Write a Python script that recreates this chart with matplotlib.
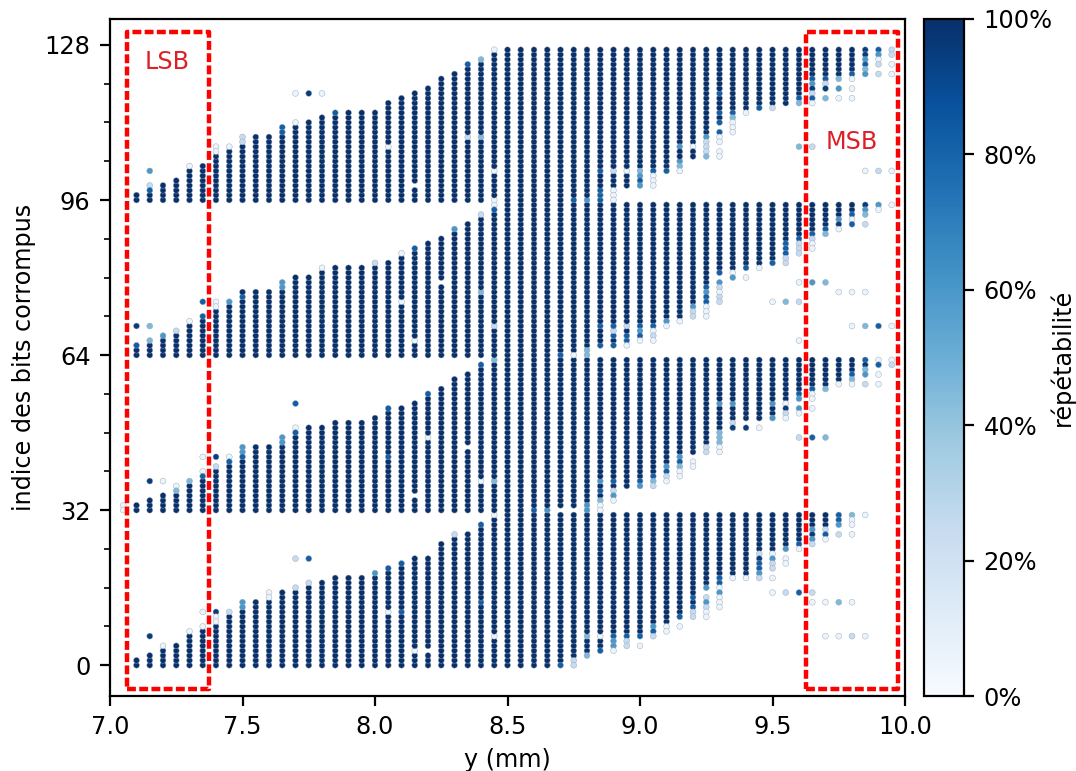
import numpy as np
from matplotlib import pyplot as plt
from matplotlib.patches import Rectangle
from matplotlib.ticker import FuncFormatter, MultipleLocator

# repetabilite levels
FULL = 100
DK = 95
MD = 82
MID = 60
ML = 45
LT = 25
WH = 6
GAP = None

col_x = [7.1, 7.15, 7.2, 7.25, 7.3, 7.35, 7.4, 7.45, 7.5, 7.55, 7.6, 7.65, 7.7, 7.75, 7.8, 7.85, 7.9, 7.95,
         8.0, 8.05, 8.1, 8.15, 8.2, 8.25, 8.3, 8.35, 8.4, 8.45, 8.5, 8.55, 8.6, 8.65, 8.7, 8.75, 8.8, 8.85, 8.9, 8.95,
         9.0, 9.05, 9.1, 9.15, 9.2, 9.25, 9.3, 9.35, 9.4, 9.45, 9.5, 9.55, 9.6, 9.65, 9.7, 9.75, 9.8, 9.85, 9.9, 9.95]

# top of the solid run in each 32 bit band, -1 = no solid run
top_b0 = [1, 2, 3, 4, 6, 7, 8, 10, 11, 13, 13, 15, 15, 16, 17, 18, 18, 18,
          18, 19, 20, 22, 22, 25, 26, 27, 28, 30, 31, 31, 31, 31, 31, 31, 31, 31, 31, 31,
          31, 31, 31, 31, 31, 31, 31, 31, 31, 31, 31, 31, 31, 31, 31, -1, -1, -1, -1, -1]
top_b32 = [1, 2, 3, 3, 5, 6, 8, 9, 10, 13, 13, 13, 15, 17, 17, 18, 18, 18,
           19, 20, 21, 22, 23, 25, 27, 28, 29, 30, 31, 31, 31, 31, 31, 31, 31, 31, 31, 31,
           31, 31, 31, 31, 31, 31, 31, 31, 31, 31, 31, 31, 31, 31, 31, 31, 31, -1, -1, -1]
top_b64 = [1, 2, 3, 4, 6, 7, 9, 10, 13, 13, 13, 13, 16, 16, 17, 18, 18, 18,
           18, 19, 20, 21, 23, 24, 25, 27, 28, 29, 31, 31, 31, 31, 31, 31, 31, 31, 31, 31,
           31, 31, 31, 31, 31, 31, 31, 31, 31, 31, 31, 31, 31, 31, 31, 31, 31, -1, -1, -1]
top_b96 = [1, 1, 3, 4, 6, 7, 9, 10, 11, 13, 13, 13, 15, 16, 17, 17, 18, 18,
           18, 20, 21, 22, 23, 25, 26, 27, 28, 30, 31, 31, 31, 31, 31, 31, 31, 31, 31, 31,
           31, 31, 31, 31, 31, 31, 31, 31, 31, 31, 31, 31, 31, 31, 31, 31, 31, -1, -1, -1]

# bottom of the solid run where it is not bit 0 of the band
bot_b0 = {8.7: 1, 8.75: 2, 8.8: 3, 8.85: 4, 8.9: 7, 8.95: 7, 9.0: 7, 9.05: 9, 9.1: 9, 9.15: 11, 9.2: 13, 9.25: 17,
          9.3: 19, 9.35: 19, 9.4: 19, 9.45: 24, 9.5: 24, 9.55: 25, 9.6: 26, 9.65: 29, 9.7: 29}
bot_b32 = {8.7: 1, 8.75: 1, 8.8: 2, 8.85: 3, 8.9: 5, 8.95: 5, 9.0: 7, 9.05: 8, 9.1: 10, 9.15: 12, 9.2: 12, 9.25: 14,
           9.3: 17, 9.35: 19, 9.4: 19, 9.45: 19, 9.5: 20, 9.55: 23, 9.6: 25, 9.65: 26, 9.7: 26, 9.75: 27, 9.8: 29}
bot_b64 = {8.7: 1, 8.75: 1, 8.8: 2, 8.85: 2, 8.9: 3, 8.95: 3, 9.0: 7, 9.05: 7, 9.1: 8, 9.15: 8, 9.2: 11, 9.25: 15,
           9.3: 18, 9.35: 18, 9.4: 19, 9.45: 19, 9.5: 20, 9.55: 24, 9.6: 25, 9.65: 26, 9.7: 27, 9.75: 29, 9.8: 30}
bot_b96 = {8.9: 3, 8.95: 3, 9.0: 7, 9.05: 7, 9.1: 7, 9.15: 12, 9.2: 12, 9.25: 14, 9.3: 17, 9.35: 19, 9.4: 19,
           9.45: 20, 9.5: 20, 9.55: 20, 9.6: 22, 9.65: 26, 9.7: 26, 9.75: 26, 9.8: 27}

# single dots: (y mm, bit inside the band, repetabilite), they replace the solid run
spots_b0 = [(7.15, 6, DK), (7.2, 4, WH), (7.3, 7, WH), (7.35, 11, WH), (7.35, 8, WH), (7.4, 11, DK), (7.4, 10, WH),
            (7.4, 9, WH), (7.45, 11, LT), (7.5, 13, MID), (7.5, 12, MID), (7.6, 15, WH), (7.6, 14, WH), (7.7, 22, LT),
            (7.7, 16, LT), (7.75, 22, MD), (7.75, 17, LT), (8.0, 19, MID), (8.05, 20, MD), (8.05, 11, WH),
            (8.1, 21, MD), (8.1, 11, MD), (8.15, 3, WH), (8.2, 3, GAP), (8.3, 27, LT), (8.4, 29, MD), (8.4, 13, MD),
            (8.45, 31, WH), (8.45, 6, WH), (8.7, 0, MD), (8.75, 1, LT), (8.75, 0, LT), (8.8, 6, ML), (8.8, 2, ML),
            (8.85, 6, WH), (8.85, 3, MD), (8.9, 6, MD), (8.9, 5, MID), (8.9, 4, MID), (8.9, 3, WH), (8.95, 6, MD),
            (8.95, 5, LT), (8.95, 4, LT), (9.0, 6, MD), (9.0, 4, WH), (9.05, 8, MID), (9.05, 7, MD), (9.05, 6, LT),
            (9.1, 8, WH), (9.1, 7, WH), (9.15, 10, MD), (9.15, 8, WH), (9.2, 14, MD), (9.2, 12, MD), (9.2, 11, LT),
            (9.2, 10, LT), (9.25, 16, MID), (9.25, 14, LT), (9.25, 13, MID), (9.25, 12, LT), (9.25, 11, WH),
            (9.25, 10, WH), (9.3, 18, MD), (9.3, 17, MD), (9.3, 16, WH), (9.3, 15, MID), (9.3, 14, WH), (9.3, 13, WH),
            (9.3, 12, WH), (9.35, 18, WH), (9.4, 18, WH), (9.45, 23, LT), (9.45, 22, DK), (9.45, 21, MD), (9.45, 20, MD),
            (9.45, 19, MID), (9.45, 18, LT), (9.5, 23, WH), (9.5, 22, MID), (9.5, 21, LT), (9.5, 20, LT), (9.5, 18, WH),
            (9.5, 15, WH), (9.55, 24, MID), (9.55, 22, WH), (9.55, 21, WH), (9.55, 15, LT), (9.6, 25, MD), (9.6, 24, WH),
            (9.6, 15, MD), (9.65, 28, MID), (9.65, 27, DK), (9.65, 26, MID), (9.65, 25, LT), (9.65, 15, LT), (9.65, 13, WH),
            (9.7, 28, LT), (9.7, 27, MD), (9.7, 26, WH), (9.7, 13, WH), (9.7, 6, WH), (9.75, 31, MD), (9.75, 30, MD),
            (9.75, 29, MID), (9.75, 27, LT), (9.75, 13, ML), (9.75, 6, WH), (9.8, 31, ML), (9.8, 30, WH), (9.8, 29, WH),
            (9.8, 27, WH), (9.8, 13, WH), (9.8, 6, LT), (9.85, 31, WH), (9.85, 6, WH)]

spots_b32 = [(7.05, 1, WH), (7.05, 0, WH), (7.15, 6, DK), (7.2, 6, WH), (7.25, 5, WH), (7.25, 4, ML), (7.3, 6, ML),
             (7.35, 11, WH), (7.35, 8, WH), (7.35, 7, MD), (7.4, 11, DK), (7.4, 9, LT), (7.45, 11, WH), (7.45, 10, MD),
             (7.5, 13, MID), (7.5, 12, MID), (7.5, 11, MD), (7.65, 15, MID), (7.65, 14, MID), (7.7, 22, MD), (7.7, 17, WH),
             (7.7, 16, MD), (8.05, 21, MD), (8.05, 11, MD), (8.15, 3, GAP), (8.2, 24, MD), (8.2, 15, WH), (8.35, 13, GAP),
             (8.4, 30, MD), (8.4, 6, WH), (8.45, 31, ML), (8.45, 6, ML), (8.6, 0, MD), (8.65, 0, MID), (8.8, 1, MID),
             (8.8, 0, MID), (8.85, 6, MID), (8.85, 4, MD), (8.85, 2, ML), (8.85, 1, WH), (8.85, 0, WH), (8.9, 6, MD),
             (8.9, 5, FULL), (8.9, 4, LT), (8.9, 3, MID), (8.9, 2, WH), (9.0, 6, MD), (9.0, 5, MID), (9.05, 7, MD),
             (9.05, 6, ML), (9.05, 5, LT), (9.1, 9, MID), (9.1, 8, MD), (9.1, 7, LT), (9.1, 6, WH), (9.15, 11, MID),
             (9.15, 10, MD), (9.15, 9, ML), (9.15, 8, WH), (9.15, 7, WH), (9.2, 10, WH), (9.2, 9, WH), (9.25, 13, LT),
             (9.25, 12, LT), (9.3, 22, MID), (9.3, 16, ML), (9.3, 15, ML), (9.3, 14, ML), (9.3, 13, WH), (9.3, 12, WH),
             (9.35, 22, MID), (9.35, 18, LT), (9.35, 17, DK), (9.4, 18, GAP), (9.4, 17, DK), (9.45, 17, WH), (9.5, 22, MID),
             (9.5, 19, MID), (9.55, 22, WH), (9.55, 21, DK), (9.55, 20, LT), (9.55, 19, WH), (9.6, 24, MD), (9.6, 23, MID),
             (9.6, 21, MID), (9.6, 20, WH), (9.6, 15, LT), (9.65, 25, MD), (9.65, 24, WH), (9.65, 23, WH), (9.65, 21, WH),
             (9.65, 15, MD), (9.7, 25, ML), (9.7, 15, ML), (9.75, 26, WH), (9.8, 28, MD), (9.8, 27, ML), (9.8, 26, WH),
             (9.85, 31, MD), (9.85, 30, DK), (9.85, 29, ML), (9.85, 28, MID), (9.85, 26, LT), (9.9, 31, WH), (9.9, 30, MD),
             (9.9, 28, WH), (9.9, 26, WH), (9.95, 31, WH), (9.95, 30, LT)]

spots_b64 = [(7.1, 6, DK), (7.1, 2, MD), (7.15, 6, ML), (7.15, 3, ML), (7.2, 4, MID), (7.25, 5, LT), (7.3, 7, WH),
             (7.35, 11, MD), (7.35, 8, MD), (7.4, 11, WH), (7.4, 10, WH), (7.45, 11, MID), (7.5, 12, MD), (7.65, 15, MID),
             (7.65, 14, MID), (7.8, 18, WH), (8.0, 19, LT), (8.1, 21, WH), (8.1, 11, WH), (8.15, 22, MD), (8.15, 3, WH),
             (8.25, 15, GAP), (8.3, 26, MID), (8.4, 29, LT), (8.4, 13, ML), (8.45, 31, WH), (8.45, 30, MD), (8.45, 6, LT),
             (8.7, 0, MD), (8.75, 0, WH), (8.8, 1, ML), (8.8, 0, ML), (8.85, 6, MD), (8.85, 2, MD), (8.9, 6, MD),
             (8.9, 5, LT), (8.9, 4, MD), (8.9, 2, MD), (8.95, 6, LT), (8.95, 4, MD), (8.95, 3, MD), (8.95, 2, WH),
             (9.0, 6, MD), (9.0, 5, MID), (9.0, 4, MD), (9.0, 3, WH), (9.05, 6, MD), (9.05, 5, WH), (9.05, 4, LT),
             (9.05, 3, WH), (9.1, 7, MID), (9.1, 6, WH), (9.15, 7, WH), (9.2, 10, MID), (9.2, 9, LT), (9.2, 8, LT),
             (9.25, 14, MD), (9.25, 13, MID), (9.25, 12, MD), (9.25, 11, MD), (9.25, 10, WH), (9.25, 9, WH), (9.25, 8, WH),
             (9.3, 17, MD), (9.3, 15, MID), (9.3, 14, LT), (9.3, 13, WH), (9.3, 12, LT), (9.3, 11, LT), (9.35, 17, WH),
             (9.35, 16, MID), (9.4, 18, MD), (9.4, 16, WH), (9.45, 18, WH), (9.5, 19, MD), (9.5, 11, WH), (9.55, 23, MD),
             (9.55, 22, MD), (9.55, 21, MD), (9.55, 20, LT), (9.55, 19, LT), (9.55, 11, ML), (9.6, 24, MD), (9.6, 23, LT),
             (9.6, 22, LT), (9.6, 21, LT), (9.6, 15, WH), (9.6, 11, LT), (9.6, 3, WH), (9.65, 25, MD), (9.65, 24, LT),
             (9.65, 23, WH), (9.65, 22, WH), (9.65, 15, MID), (9.7, 26, MD), (9.7, 25, ML), (9.7, 15, ML), (9.75, 28, MID),
             (9.75, 27, DK), (9.75, 26, WH), (9.75, 13, WH), (9.8, 29, MD), (9.8, 28, WH), (9.8, 27, MD), (9.8, 13, WH),
             (9.8, 6, WH), (9.85, 31, DK), (9.85, 30, MID), (9.85, 29, ML), (9.85, 27, LT), (9.85, 13, WH), (9.85, 6, ML),
             (9.9, 31, MID), (9.9, 30, WH), (9.9, 6, MD), (9.95, 31, WH), (9.95, 6, WH)]

spots_b96 = [(7.15, 6, MID), (7.15, 3, LT), (7.15, 2, MD), (7.3, 7, WH), (7.4, 11, WH), (7.4, 10, WH), (7.45, 11, WH),
             (7.5, 13, LT), (7.5, 12, LT), (7.65, 15, MD), (7.65, 14, MD), (7.7, 22, WH), (7.7, 16, WH), (7.75, 22, DK),
             (7.8, 22, WH), (7.85, 18, MD), (8.05, 11, WH), (8.15, 3, GAP), (8.35, 28, MD), (8.35, 13, LT), (8.4, 29, ML),
             (8.4, 13, ML), (8.45, 31, WH), (8.45, 6, WH), (8.45, 0, WH), (8.75, 0, MD), (8.8, 0, MID), (8.85, 6, MD),
             (8.85, 2, MD), (8.85, 1, MD), (8.85, 0, MD), (8.9, 6, LT), (8.9, 2, WH), (8.9, 1, WH), (8.9, 0, WH),
             (8.95, 6, WH), (9.0, 6, ML), (9.0, 5, MID), (9.0, 4, MD), (9.0, 3, MID), (9.05, 6, MD), (9.05, 5, WH),
             (9.05, 4, WH), (9.05, 3, WH), (9.1, 6, MD), (9.15, 11, MID), (9.15, 8, MID), (9.15, 7, ML), (9.15, 6, WH),
             (9.15, 10, FULL), (9.15, 9, FULL), (9.2, 11, WH), (9.2, 10, FULL), (9.2, 9, FULL), (9.25, 13, MID),
             (9.25, 12, LT), (9.25, 11, LT), (9.25, 10, LT), (9.25, 9, ML), (9.3, 22, MD), (9.3, 18, MD), (9.3, 16, MD),
             (9.3, 14, MD), (9.3, 13, WH), (9.3, 12, WH), (9.3, 10, WH), (9.3, 9, WH), (9.35, 18, MD), (9.35, 17, ML),
             (9.35, 16, WH), (9.35, 15, WH), (9.35, 14, WH), (9.4, 18, WH), (9.45, 19, MD), (9.5, 19, LT), (9.6, 21, MD),
             (9.6, 20, ML), (9.6, 11, ML), (9.65, 25, MD), (9.65, 24, MID), (9.65, 23, DK), (9.65, 22, LT), (9.65, 21, MD),
             (9.65, 20, WH), (9.65, 11, LT), (9.7, 25, MD), (9.7, 24, LT), (9.7, 23, DK), (9.7, 21, ML), (9.75, 25, ML),
             (9.75, 23, MID), (9.75, 21, WH), (9.8, 26, MD), (9.8, 25, WH), (9.8, 23, WH), (9.8, 21, WH), (9.85, 31, DK),
             (9.85, 30, DK), (9.85, 29, MID), (9.85, 28, MD), (9.85, 27, ML), (9.85, 26, MID), (9.85, 6, WH), (9.9, 31, MD),
             (9.9, 30, MID), (9.9, 29, WH), (9.9, 28, LT), (9.9, 26, LT), (9.9, 6, LT), (9.95, 31, LT), (9.95, 30, LT),
             (9.95, 28, WH), (9.95, 26, WH), (9.95, 6, WH)]

y_ticks = [0, 32, 64, 96, 128]
x_ticks = [7.0, 7.5, 8.0, 8.5, 9.0, 9.5, 10.0]
cbar_ticks = [0, 20, 40, 60, 80, 100]


def build_band(base, tops, bottoms, spots):
    cells = {}
    for x, top in zip(col_x, tops):
        for bit in range(bottoms.get(x, 0), top + 1):
            cells[(x, bit)] = FULL
    for x, bit, rep in spots:
        if rep is None:
            cells.pop((x, bit), None)
        else:
            cells[(x, bit)] = rep
    return [(x, base + bit, rep) for (x, bit), rep in cells.items()]


points = []
points += build_band(0, top_b0, bot_b0, spots_b0)
points += build_band(32, top_b32, bot_b32, spots_b32)
points += build_band(64, top_b64, bot_b64, spots_b64)
points += build_band(96, top_b96, bot_b96, spots_b96)
pts = np.array(points)

W, H = 1076, 771
fig = plt.figure(figsize=(W / 200, H / 200), dpi=200)
ax = fig.add_axes([110 / W, 1 - 696 / H, 795 / W, 677 / H])
cax = fig.add_axes([924 / W, 1 - 696 / H, 40 / W, 677 / H])

sc = ax.scatter(pts[:, 0], pts[:, 1], c=pts[:, 2], s=4.5, cmap='Blues', vmin=0, vmax=100,
                edgecolors='#9aa5b5', linewidths=0.15, zorder=2)

ax.set_xlim(7.0, 10.0)
ax.set_ylim(-6.35, 133.35)
ax.set_xticks(x_ticks)
ax.set_yticks(y_ticks)
ax.yaxis.set_minor_locator(MultipleLocator(8))
ax.tick_params(labelsize=8.7)
ax.set_xlabel('y (mm)', fontsize=8.6, labelpad=3)
ax.set_ylabel('indice des bits corrompus', fontsize=8.6, labelpad=3)

for x0, x1 in [(7.065, 7.375), (9.627, 9.975)]:
    ax.add_patch(Rectangle((x0, -5), x1 - x0, 135.7, fill=False, edgecolor='red', linewidth=1.6,
                           linestyle=(0, (2.0, 0.75)), joinstyle='round', zorder=3, clip_on=False))
ax.text(7.215, 124.5, 'LSB', color='#dc2028', fontsize=8.6, ha='center', va='center')
ax.text(9.80, 108.0, 'MSB', color='#dc2028', fontsize=8.6, ha='center', va='center')

cb = fig.colorbar(sc, cax=cax, format=FuncFormatter(lambda v, _: f'{v:.0f}%'))
cb.set_ticks(cbar_ticks)
cb.ax.tick_params(labelsize=8.7)
cb.set_label('répétabilité', fontsize=8.6, labelpad=-1)

fig.savefig('out.png', dpi=200)
